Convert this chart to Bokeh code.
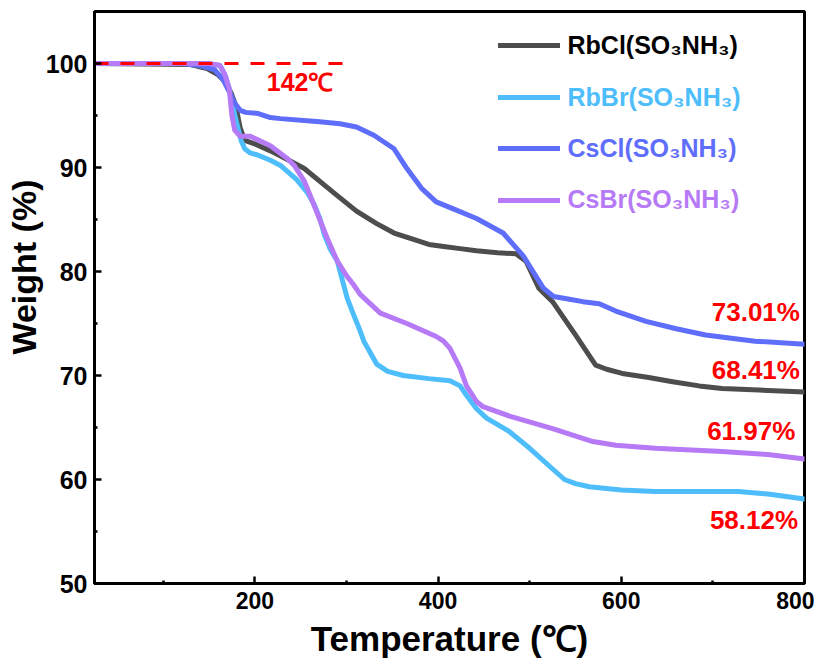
from bokeh.plotting import figure
from bokeh.models import Range1d, Title, Legend, LegendItem, FixedTicker
from bokeh.core.properties import value
from bokeh.embed import file_html
from bokeh.resources import INLINE

# ---------------- data ----------------
series_names = ["RbCl(SO\u2083NH\u2083)", "RbBr(SO\u2083NH\u2083)", "CsCl(SO\u2083NH\u2083)", "CsBr(SO\u2083NH\u2083)"]

rbcl_t = [25, 130, 148, 160, 167, 174, 179, 184, 189, 199, 217, 235, 254, 276, 290, 311, 333, 352, 369,
          390, 406, 424, 442, 465, 485, 496, 510, 525, 550, 572, 584, 601, 630, 656, 685, 710, 750, 800]
rbcl_w = [100, 99.9, 99.5, 98.9, 98.3, 97.2, 96.0, 93.8, 92.6, 92.3, 91.6, 90.8, 89.9, 88.3, 87.3, 85.8, 84.6,
          83.7, 83.2, 82.6, 82.4, 82.2, 82.0, 81.8, 81.7, 81.0, 78.4, 77.1, 73.9, 71.0, 70.6, 70.2, 69.8, 69.4,
          69.0, 68.75, 68.6, 68.41]

rbbr_t = [25, 140, 155, 162, 168, 172, 177, 181, 185, 189, 195, 203, 217, 228, 246, 258, 265, 271, 276, 282,
          290, 301, 308, 314, 319, 333, 345, 362, 390, 413, 424, 431, 442, 453, 478, 500, 522, 538, 550, 565,
          600, 637, 680, 728, 760, 800]
rbbr_w = [100, 100, 99.9, 99.8, 98.8, 97.6, 95.5, 94.0, 92.6, 91.8, 91.4, 91.2, 90.7, 90.2, 88.8, 87.5, 86.4,
          85.1, 83.5, 82.2, 81.0, 77.4, 75.8, 74.5, 73.3, 71.1, 70.4, 70.0, 69.7, 69.5, 69.0, 68.1, 66.8, 65.9,
          64.6, 63.0, 61.25, 60.0, 59.6, 59.3, 59.0, 58.85, 58.85, 58.85, 58.6, 58.12]

cscl_t = [25, 120, 140, 156, 165, 172, 178, 184, 190, 203, 217, 228, 257, 271, 293, 311, 330, 352, 366, 382,
          398, 420, 442, 471, 493, 505, 515, 526, 545, 558, 576, 594, 627, 660, 692, 746, 800]
cscl_w = [100, 100, 99.8, 99.4, 98.5, 97.3, 96.2, 95.5, 95.3, 95.2, 94.8, 94.7, 94.5, 94.4, 94.2, 93.9, 93.1,
          91.8, 89.9, 88.0, 86.7, 85.9, 85.1, 83.7, 81.5, 79.8, 78.4, 77.6, 77.3, 77.1, 76.9, 76.2, 75.2, 74.5,
          73.9, 73.3, 73.01]

csbr_t = [25, 150, 162, 167, 172, 175, 178, 184, 195, 217, 235, 243, 254, 265, 279, 290, 300, 308, 315, 337,
          366, 398, 406, 413, 424, 431, 442, 449, 478, 525, 569, 594, 637, 710, 760, 800]
csbr_w = [100, 100, 99.8, 99.0, 97.6, 95.0, 93.6, 93.0, 93.0, 92.1, 90.9, 90.2, 88.7, 86.3, 83.2, 81.0, 79.6,
          78.7, 77.8, 76.0, 75.0, 73.75, 73.3, 72.6, 70.7, 69.0, 67.5, 67.0, 66.1, 64.9, 63.65, 63.3, 63.0,
          62.7, 62.4, 61.97]

x_ticks = [200, 400, 600, 800]
x_minor = [100, 300, 500, 700]
y_ticks = [50, 60, 70, 80, 90, 100]
y_minor = [55, 65, 75, 85, 95]

onset_x = [25, 300]
onset_y = [100, 100]
onset_text = ["142\u2103"]
onset_tx = [213]
onset_ty = [98.2]

end_text = ["73.01%", "68.41%", "61.97%", "58.12%"]
end_tx = [795, 795, 790, 793]
end_ty = [76.15, 70.5, 64.66, 56.15]

x_title = "Temperature (\u2103)"
y_title = "Weight (%)"

# ---------------- styles ----------------
line_colors = ["#4D4D4D", "#4DBDFB", "#5F6DFB", "#B77AF6"]
text_colors = ["#000000", "#4DBDFB", "#5F6DFB", "#B77AF6"]
FONT = "Liberation Sans"

p = figure(width=814, height=664, output_backend="svg", toolbar_location=None,
           x_range=Range1d(25, 800), y_range=Range1d(50, 105),
           min_border_left=94, min_border_right=10, min_border_top=11, min_border_bottom=81)
p.xgrid.visible = False
p.ygrid.visible = False
p.outline_line_color = "black"
p.outline_line_width = 3
p.background_fill_color = "white"
p.border_fill_color = "white"

p.xaxis.ticker = FixedTicker(ticks=x_ticks, minor_ticks=x_minor)
p.yaxis.ticker = FixedTicker(ticks=y_ticks, minor_ticks=y_minor)
for ax in (p.xaxis[0], p.yaxis[0]):
    ax.axis_line_width = 3
    ax.axis_line_color = "black"
    ax.major_tick_in = 7
    ax.major_tick_out = 0
    ax.minor_tick_in = 3
    ax.minor_tick_out = 0
    ax.major_tick_line_width = 2.5
    ax.minor_tick_line_width = 2.5
    ax.major_label_text_font = FONT
    ax.major_label_text_font_style = "bold"
    ax.major_label_text_color = "black"

p.xaxis.major_label_text_font_size = "23px"
p.yaxis.major_label_text_font_size = "25px"
p.xaxis.major_label_standoff = 8
p.yaxis.major_label_standoff = 7

p.xaxis.axis_label = x_title
p.xaxis.axis_label_text_font = FONT
p.xaxis.axis_label_text_font_size = "35px"
p.xaxis.axis_label_text_font_style = "bold"
p.xaxis.axis_label_text_color = "black"
p.xaxis.axis_label_standoff = 7

ytitle = Title(text=y_title, align="right", offset=168, standoff=0,
               text_font=FONT, text_font_size="34px", text_font_style="bold", text_color="black")
p.add_layout(ytitle, "left")

series = [(rbcl_t, rbcl_w), (rbbr_t, rbbr_w), (cscl_t, cscl_w), (csbr_t, csbr_w)]
renderers = []
for (t, w), c in zip(series, line_colors):
    r = p.line(t, w, line_color=c, line_width=5, line_join="round", line_cap="round")
    renderers.append(r)

p.line(onset_x, onset_y, line_color="#FF0000", line_width=3, line_dash="14 12")

p.text(onset_tx, onset_ty, text=onset_text, text_color="#FF0000", text_font=value(FONT),
       text_font_size="25px", text_font_style="bold", text_align="left", text_baseline="middle")
p.text(end_tx, end_ty, text=end_text, text_color="#FF0000", text_font=value(FONT),
       text_font_size="26px", text_font_style="bold", text_align="right", text_baseline="middle")

legend_rows_y = [522.7, 470.7, 420.0, 368.3]
for name, r, tc, ly in zip(series_names, renderers, text_colors, legend_rows_y):
    lg = Legend(items=[LegendItem(label=name, renderers=[r])], location=(403.5, ly),
                label_text_color=tc, label_text_font=FONT, label_text_font_size="25px",
                label_text_font_style="bold", glyph_width=62, glyph_height=30, label_height=30,
                label_standoff=8, padding=0, margin=0, spacing=0,
                border_line_alpha=0, background_fill_alpha=0)
    p.add_layout(lg, "center")

open("out.html", "w").write(file_html(p, INLINE))
